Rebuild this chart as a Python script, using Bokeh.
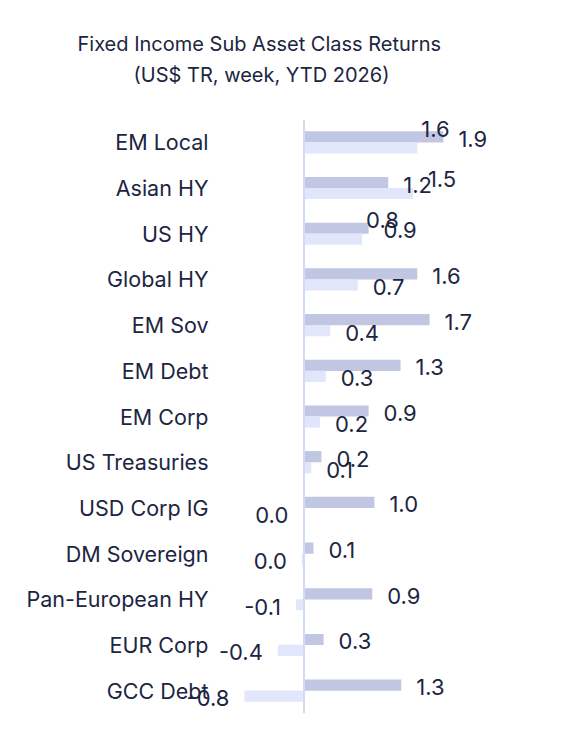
from bokeh.plotting import figure
from bokeh.models import ColumnDataSource, Range1d, FactorRange, Span, Title
from bokeh.transform import dodge
from bokeh.embed import file_html
from bokeh.resources import INLINE
from bokeh.core.properties import value

# ---- data ----
categories = ["EM Local", "Asian HY", "US HY", "Global HY", "EM Sov", "EM Debt",
              "EM Corp", "US Treasuries", "USD Corp IG", "DM Sovereign",
              "Pan-European HY", "EUR Corp", "GCC Debt"]
series_dark = [1.92, 1.16, 0.89, 1.56, 1.73, 1.33, 0.89, 0.24, 0.97, 0.13, 0.94, 0.27, 1.34]
series_light = [1.56, 1.50, 0.80, 0.74, 0.36, 0.30, 0.22, 0.10, -0.01, -0.03, -0.11, -0.36, -0.82]

title_line1 = "Fixed Income Sub Asset Class Returns"
title_line2 = "(US$ TR, week, YTD 2026)"

# label placement nudges (pixels) for the light series, as in the reference
light_nudge_x = [-11, 0, -11, 0, 0, 0, 0, 0, 0, 0, 0, 0, 0]
light_nudge_y = [-21, -17, -21, 0, 0, 0, 0, 0, 0, 0, 0, 0, 0]

FONT = "Inter"
TEXT = "#1c2541"
DARK = "#c1c6e2"
LIGHT = "#e1e6fb"


def fmt(v):
    s = f"{v:.1f}"
    return "0.0" if s == "-0.0" else s


def make_source(vals, nx=None, ny=None):
    nx = nx or [0] * len(vals)
    ny = ny or [0] * len(vals)
    return ColumnDataSource(dict(
        cat=categories,
        val=vals,
        lbl=[fmt(v) for v in vals],
        align=["left" if v >= 0 else "right" for v in vals],
        xo=[(15 if v >= 0 else -15) + dx for v, dx in zip(vals, nx)],
        yo=[2 + dy for dy in ny],
    ))


src_dark = make_source(series_dark)
src_light = make_source(series_light, light_nudge_x, light_nudge_y)

p = figure(width=561, height=729, output_backend="svg", toolbar_location=None,
           y_range=FactorRange(factors=list(reversed(categories))),
           x_range=Range1d(-1.839, 3.547),
           min_border_left=170, min_border_right=0, min_border_top=119,
           min_border_bottom=16, title=None)
p.outline_line_color = None
p.background_fill_color = "white"
p.border_fill_color = "white"
p.xgrid.visible = False
p.ygrid.visible = False
p.xaxis.visible = False

ya = p.yaxis[0]
ya.axis_line_color = None
ya.major_tick_line_color = None
ya.minor_tick_line_color = None
ya.major_tick_out = 0
ya.major_tick_in = 0
ya.major_label_standoff = -38
ya.major_label_text_font = FONT
ya.major_label_text_font_size = "21.5px"
ya.major_label_text_color = TEXT

p.hbar(y=dodge("cat", 0.12, range=p.y_range), right="val", left=0, height=0.245,
       source=src_dark, fill_color=DARK, line_color=None)
p.hbar(y=dodge("cat", -0.12, range=p.y_range), right="val", left=0, height=0.245,
       source=src_light, fill_color=LIGHT, line_color=None)

p.add_layout(Span(location=0, dimension="height", line_color="#cfdcf7", line_width=2))

for src, off in ((src_dark, 0.12), (src_light, -0.12)):
    p.text(x="val", y=dodge("cat", off, range=p.y_range), text="lbl", source=src,
           text_align="align", text_baseline="middle", x_offset="xo", y_offset="yo",
           text_font=value(FONT), text_font_size="22px", text_color=TEXT)

# spacer between plot and title block
t0 = Title(text=" ", align="left", standoff=2, text_font=FONT,
           text_font_size="20px", text_color="white")
t2 = Title(text=title_line2, align="left", offset=-37, standoff=10, text_font=FONT,
           text_font_size="20px", text_font_style="normal", text_color=TEXT)
t1 = Title(text=title_line1, align="left", offset=-93, standoff=0, text_font=FONT,
           text_font_size="20px", text_font_style="normal", text_color=TEXT)
p.add_layout(t0, "above")
p.add_layout(t2, "above")
p.add_layout(t1, "above")

open("out.html", "w").write(file_html(p, INLINE))
